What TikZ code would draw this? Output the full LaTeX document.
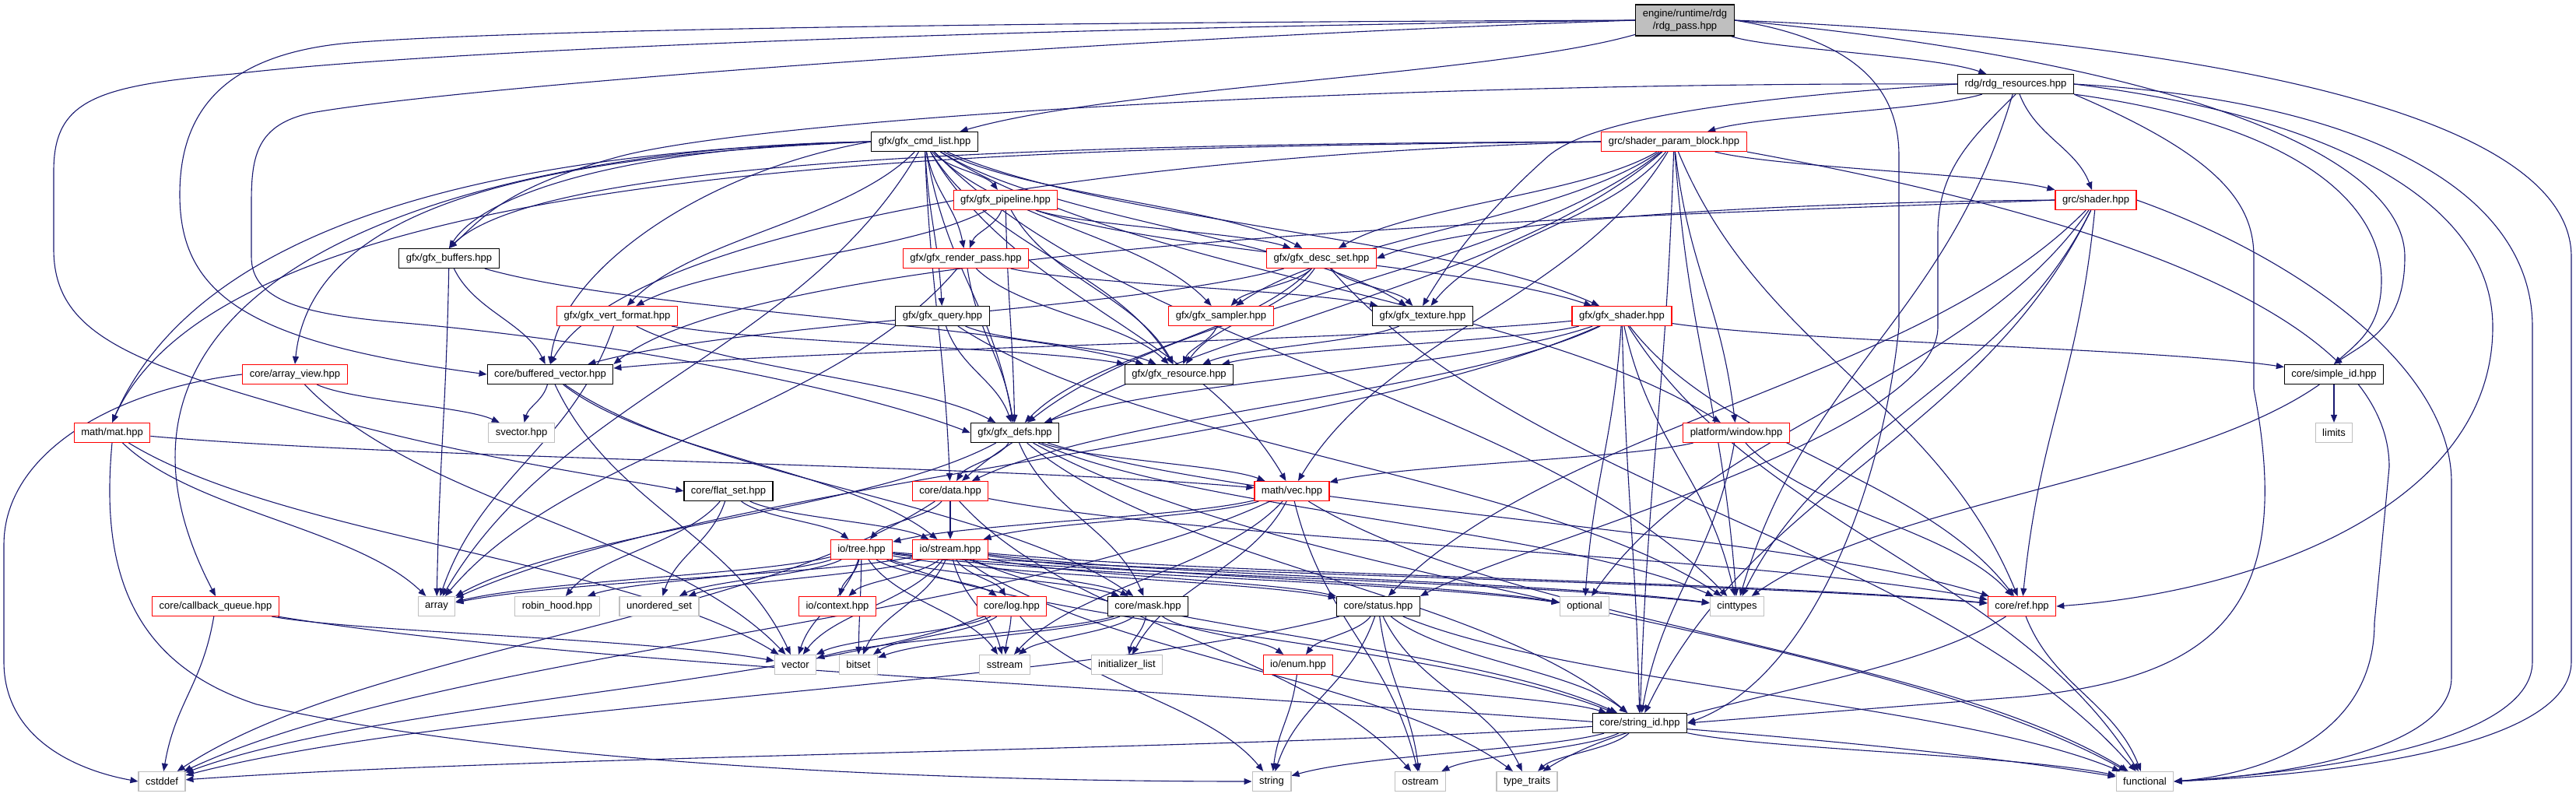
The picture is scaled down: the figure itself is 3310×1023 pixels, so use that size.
\documentclass[tikz,border=0pt]{standalone}
\usepackage{fontspec}
\newfontfamily\dotfont{Liberation Sans}
\usetikzlibrary{arrows.meta, backgrounds}
\definecolor{cedge}{HTML}{191970}
\definecolor{cred}{HTML}{FF0000}
\definecolor{cext}{HTML}{BFBFBF}
\tikzset{
  every picture/.style={line width=0.55pt},
  incbox/.style={draw=#1, fill=white, line width=0.6pt, inner xsep=4.5pt, inner ysep=0pt,
    minimum height=12.5pt, align=center, font=\dotfont\fontsize{6.5}{7.8}\selectfont},
  incbox/.default=black,
  redbox/.style={incbox=cred},
  extbox/.style={incbox=cext},
  rootbox/.style={incbox=black, fill=cext, minimum height=20pt},
  dep/.style={-{Triangle[length=5pt, width=4pt]}, draw=cedge, line width=0.55pt},
}

\begin{document}
\begin{tikzpicture}[x=0.5pt, y=-0.5pt]
  \useasboundingbox (0,0) rectangle (3310,1023);
  % the header itself and the headers it pulls in
  \node[rootbox] (root) at (2165,26) {engine/runtime/rdg\\/rdg\_pass.hpp};
  \node[incbox] (rdgres) at (2590,108) {rdg/rdg\_resources.hpp};
  \node[incbox] (cmdlist) at (1188,182) {gfx/gfx\_cmd\_list.hpp};
  \node[redbox] (spb) at (2151,182) {grc/shader\_param\_block.hpp};
  \node[redbox] (pipeline) at (1292,257) {gfx/gfx\_pipeline.hpp};
  \node[redbox] (grcshader) at (2693,257) {grc/shader.hpp};
  \node[incbox] (buffers) at (577,332) {gfx/gfx\_buffers.hpp};
  \node[redbox] (renderpass) at (1241,332) {gfx/gfx\_render\_pass.hpp};
  \node[redbox] (descset) at (1698,332) {gfx/gfx\_desc\_set.hpp};
  \node[redbox] (vertfmt) at (793,406) {gfx/gfx\_vert\_format.hpp};
  \node[incbox] (query) at (1211,406) {gfx/gfx\_query.hpp};
  \node[redbox] (sampler) at (1569,406) {gfx/gfx\_sampler.hpp};
  \node[incbox] (texture) at (1828,406) {gfx/gfx\_texture.hpp};
  \node[redbox] (gfxshader) at (2084,406) {gfx/gfx\_shader.hpp};
  \node[redbox] (arrayview) at (379,481) {core/array\_view.hpp};
  \node[incbox] (bufvec) at (707,481) {core/buffered\_vector.hpp};
  \node[incbox] (resource) at (1515,481) {gfx/gfx\_resource.hpp};
  \node[incbox] (simpleid) at (2999,481) {core/simple\_id.hpp};
  \node[redbox] (mat) at (144,556) {math/mat.hpp};
  \node[extbox] (svector) at (670,556) {svector.hpp};
  \node[incbox] (defs) at (1304,556) {gfx/gfx\_defs.hpp};
  \node[redbox] (window) at (2231,556) {platform/window.hpp};
  \node[extbox] (limits) at (2999,556) {limits};
  \node[incbox] (flatset) at (936,631) {core/flat\_set.hpp};
  \node[redbox] (data) at (1221,631) {core/data.hpp};
  \node[redbox] (vec) at (1660,631) {math/vec.hpp};
  \node[redbox] (tree) at (1107,706) {io/tree.hpp};
  \node[redbox] (stream) at (1221,706) {io/stream.hpp};
  \node[redbox] (cbqueue) at (277,779) {core/callback\_queue.hpp};
  \node[extbox] (array) at (561,779) {array};
  \node[extbox] (robin) at (716,779) {robin\_hood.hpp};
  \node[extbox] (uset) at (847,779) {unordered\_set};
  \node[redbox] (context) at (1076,779) {io/context.hpp};
  \node[redbox] (log) at (1300,779) {core/log.hpp};
  \node[incbox] (mask) at (1475,779) {core/mask.hpp};
  \node[incbox] (status) at (1771,779) {core/status.hpp};
  \node[extbox] (optional) at (2036,779) {optional};
  \node[extbox] (cinttypes) at (2232,779) {cinttypes};
  \node[redbox] (ref) at (2598,779) {core/ref.hpp};
  \node[extbox] (vector) at (1022,854) {vector};
  \node[extbox] (bitset) at (1103,854) {bitset};
  \node[extbox] (sstream) at (1291,854) {sstream};
  \node[extbox] (initlist) at (1448,854) {initializer\_list};
  \node[redbox] (enum) at (1668,854) {io/enum.hpp};
  \node[incbox] (stringid) at (2107,929) {core/string\_id.hpp};
  \node[extbox] (cstddef) at (208,1004) {cstddef};
  \node[extbox] (string) at (1634,1004) {string};
  \node[extbox] (ostream) at (1825,1004) {ostream};
  \node[extbox] (typetraits) at (1962,1004) {type\_traits};
  \node[extbox] (functional) at (2756,1004) {functional};

  \begin{scope}[on background layer]
    % plain include edges, bent a little so they leave downwards and come in from above
    \foreach \src/\dst in {root/rdgres, root/cmdlist,
      rdgres/spb, rdgres/grcshader, rdgres/cinttypes,
      cmdlist/pipeline, cmdlist/renderpass, cmdlist/query, cmdlist/vertfmt, cmdlist/sampler,
      cmdlist/texture, cmdlist/descset, cmdlist/gfxshader, cmdlist/resource, cmdlist/defs,
      cmdlist/data, cmdlist/vec, cmdlist/window, cmdlist/cinttypes, cmdlist/array,
      pipeline/renderpass, pipeline/vertfmt, pipeline/descset, pipeline/gfxshader, pipeline/resource, pipeline/defs,
      renderpass/texture, renderpass/resource, renderpass/defs, renderpass/array,
      query/resource, query/defs, query/cinttypes,
      descset/sampler, descset/texture, descset/resource, descset/defs, descset/bufvec, descset/functional,
      sampler/resource, texture/resource,
      gfxshader/resource, gfxshader/defs, gfxshader/data, gfxshader/bufvec, gfxshader/simpleid,
      gfxshader/optional, gfxshader/cinttypes, gfxshader/stringid, gfxshader/functional,
      gfxshader/array, gfxshader/ref,
      spb/grcshader, spb/descset, spb/sampler, spb/texture, spb/vec, spb/defs, spb/data,
      spb/window, spb/cinttypes, spb/ref, spb/stringid,
      grcshader/cinttypes, grcshader/stringid, grcshader/optional, grcshader/ref, grcshader/status,
      buffers/resource, buffers/bufvec, buffers/array,
      vertfmt/resource, vertfmt/defs, vertfmt/array,
      arrayview/svector, arrayview/vector,
      bufvec/svector, bufvec/vector, bufvec/stream, bufvec/mask,
      mat/vec, mat/array, mat/vector,
      defs/data, defs/vec, defs/mask, defs/cinttypes, defs/ref, defs/functional, defs/array, defs/stringid,
      flatset/tree, flatset/stream, flatset/robin, flatset/uset,
      data/tree, data/stream, data/ref, data/cstddef, data/ostream,
      vec/tree, vec/stream, vec/initlist, vec/sstream, vec/ostream, vec/functional, vec/cstddef,
      window/vec, window/ref, window/stringid,
      tree/context, tree/log, tree/mask, tree/vector, tree/bitset, tree/array, tree/robin, tree/uset,
      tree/status, tree/stringid, tree/ref, tree/cinttypes, tree/optional, tree/sstream,
      stream/context, stream/log, stream/mask, stream/vector, stream/bitset, stream/sstream, stream/array,
      stream/uset, stream/status, stream/stringid, stream/ref, stream/cinttypes, stream/optional, stream/typetraits,
      log/vector, log/bitset, log/sstream, log/string, log/cstddef,
      mask/sstream, mask/vector, mask/bitset, mask/initlist, mask/enum,
      cbqueue/vector, cbqueue/cstddef, cbqueue/functional,
      status/enum, status/string, status/ostream, status/typetraits, status/stringid, status/cstddef, status/functional,
      enum/string, enum/stringid,
      stringid/string, stringid/ostream, stringid/typetraits, stringid/cstddef, stringid/functional,
      ref/functional, ref/typetraits,
      simpleid/limits, simpleid/cinttypes}{
      \pgfpointdiff{\pgfpointanchor{\src}{center}}{\pgfpointanchor{\dst}{center}}
      \pgfgetlastxy{\dx}{\dy}
      \draw[dep] (\src) .. controls ([shift={(0.25*\dx,0.45*\dy)}]\src.center)
        and ([shift={(-0.25*\dx,-0.45*\dy)}]\dst.center) .. (\dst);
    }

    % long edges around the left side
    \draw[dep] (root.west) .. controls (1500,28) and (700,35) .. (450,55) .. controls (280,70) and (231,150) .. (231,250) .. controls (231,380) and (320,440) .. (bufvec.west);
    \draw[dep] (root.west) .. controls (1400,35) and (600,60) .. (300,95) .. controls (120,110) and (69,130) .. (69,220) -- (69,320) .. controls (69,420) and (150,460) .. (360,520) .. controls (600,590) and (800,615) .. (flatset.west);
    \draw[dep] (root.west) .. controls (1400,50) and (600,110) .. (400,145) .. controls (330,160) and (323,200) .. (323,260) -- (323,330) .. controls (323,390) and (400,405) .. (520,415) .. controls (800,440) and (1100,500) .. (defs.west);
    \draw[dep] (cmdlist.west) .. controls (800,190) and (620,250) .. (buffers.north);
    \draw[dep] (cmdlist.west) .. controls (600,195) and (250,300) .. (mat.north);
    \draw[dep] (cmdlist.west) .. controls (700,200) and (400,260) .. (arrayview.north);
    \draw[dep] (cmdlist.west) .. controls (600,190) and (60,350) .. (cbqueue.north);
    \draw[dep] (cmdlist.west) .. controls (900,220) and (720,350) .. (bufvec.north);
    \draw[dep] (spb.west) .. controls (1400,185) and (700,200) .. (buffers.north);
    \draw[dep] (spb.west) .. controls (1300,190) and (300,200) .. (mat.north);
    \draw[dep] (spb.west) .. controls (1400,200) and (800,300) .. (bufvec.north);
    \draw[dep] (rdgres.west) .. controls (1800,105) and (1000,150) .. (800,200) .. controls (650,240) and (620,280) .. (buffers.north);
    \draw[dep] (rdgres.west) .. controls (2250,125) and (2050,150) .. (1990,200) .. controls (1900,280) and (1860,340) .. (texture.north);
    \draw[dep] (grcshader.west) .. controls (2300,260) and (1900,280) .. (descset.east);
    \draw[dep] (grcshader.west) .. controls (2200,275) and (1000,300) .. (bufvec.north east);
    \draw[dep] (arrayview.west) .. controls (150,500) and (5,580) .. (5,700) -- (5,850) .. controls (5,950) and (100,990) .. (cstddef.west);
    \draw[dep] (mat.south) .. controls (130,720) and (160,850) .. (330,905) .. controls (700,990) and (1300,1004) .. (string.west);

    % long edges around the right side
    \draw[dep] (root.east) .. controls (2700,45) and (3304,120) .. (3304,330) -- (3304,850) .. controls (3304,960) and (3000,995) .. (functional.east);
    \draw[dep] (root.east) .. controls (2800,80) and (3090,200) .. (3090,330) .. controls (3090,420) and (3040,440) .. (simpleid.north);
    \draw[dep] (root.east) .. controls (2380,50) and (2440,110) .. (2440,200) -- (2440,420) .. controls (2420,620) and (2330,870) .. (stringid.east);
    \draw[dep] (rdgres.south east) .. controls (2950,160) and (3060,260) .. (3060,360) .. controls (3060,420) and (3030,440) .. (simpleid.north);
    \draw[dep] (rdgres.south) .. controls (2530,180) and (2490,220) .. (2490,300) -- (2490,420) .. controls (2490,560) and (1950,700) .. (status.north east);
    \draw[dep] (rdgres.south east) .. controls (2850,200) and (2896,260) .. (2896,330) -- (2896,500) .. controls (2950,780) and (2850,870) .. (2600,895) -- (stringid.east);
    \draw[dep] (rdgres.east) .. controls (3000,150) and (3203,260) .. (3203,420) .. controls (3203,650) and (2900,760) .. (ref.east);
    \draw[dep] (rdgres.east) .. controls (3050,130) and (3254,250) .. (3254,420) -- (3254,850) .. controls (3254,950) and (3000,990) .. (functional.east);
    \draw[dep] (spb.south east) .. controls (2600,260) and (3070,380) .. (3070,600) -- (3051,800) .. controls (3051,950) and (2900,995) .. (functional.east);
    \draw[dep] (grcshader.east) .. controls (2950,330) and (3150,470) .. (3150,620) -- (3150,870) .. controls (3150,960) and (2950,995) .. (functional.east);
  \end{scope}
\end{tikzpicture}
\end{document}
